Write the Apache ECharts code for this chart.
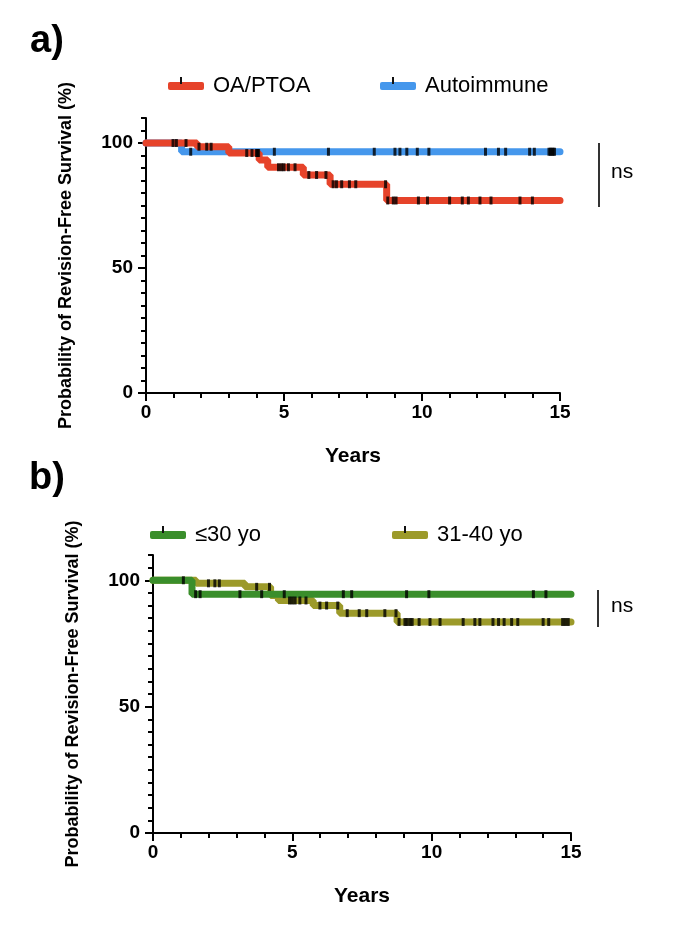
<!DOCTYPE html>
<html><head><meta charset="utf-8">
<script src="https://cdn.jsdelivr.net/npm/echarts@6/dist/echarts.min.js"></script>
<style>html,body{margin:0;padding:0;background:#fff}#c{width:685px;height:939px}</style>
</head><body><div id="c"></div>
<script>
// ---- data ----
const yearLabels = [0, 5, 10, 15];
const survLabels = [0, 50, 100];

// Panel a: Kaplan-Meier steps [years, % survival]
const oaSteps   = [[0,100],[1.85,98.5],[3.0,96],[4.1,93.2],[4.41,90.3],[5.7,87.2],[6.67,83.5],[8.72,77],[15,77]];
const autoSteps = [[0,100],[1.29,96.5],[15,96.5]];
const oaCensor   = [0.98,1.1,1.45,1.92,2.2,2.36,3.65,3.84,4.0,4.04,4.08,4.8,4.91,5.0,5.16,5.4,5.9,6.18,6.52,6.78,6.9,7.09,7.37,7.6,8.68,8.76,8.96,9.06,9.87,10.2,11.0,11.46,11.68,12.1,12.5,13.55,14.0];
const autoCensor = [1.62,4.65,6.61,8.27,9.02,9.2,9.45,9.83,10.25,12.3,12.77,13.03,13.9,14.07,14.6,14.65,14.7,14.75,14.8];

// Panel b
const youngSteps = [[0,100],[1.4,94.5],[15,94.5]];
const midSteps   = [[0,100],[1.55,98.8],[3.3,97.4],[4.22,94],[4.5,92],[5.75,90],[6.7,87],[8.76,83.5],[15,83.5]];
const youngCensor = [1.09,1.53,1.69,3.12,3.9,4.71,6.83,7.13,9.1,9.9,13.65,14.1];
const midCensor   = [1.99,2.22,2.38,3.72,4.18,4.9,5.0,5.1,5.27,5.49,5.99,6.23,6.63,6.97,7.4,7.67,8.32,8.72,8.83,9.04,9.12,9.22,9.3,9.55,9.94,10.3,11.13,11.55,11.73,12.2,12.4,12.6,12.87,13.09,14.0,14.2,14.7,14.8,14.9];

const names = { oa: 'OA/PTOA', auto: 'Autoimmune', young: '≤30 yo', mid: '31-40 yo' };
const colors = { oa: '#E6432A', auto: '#4597EC', young: '#3A8E2B', mid: '#9C9A2A' };

// ---- helpers ----
const FONT = 'Liberation Sans, Arial, sans-serif';
function levelAt(steps, t) { let v = steps[0][1]; for (const [x, y] of steps) if (x <= t) v = y; return v; }
function censorPts(steps, times) { return times.map(t => [t, levelAt(steps, t)]); }

function axesFor(g) {
  const xs = [
    { type: 'value', gridIndex: g, min: 0, max: 15, interval: 1,
      axisLine: { lineStyle: { color: '#000', width: 2 } },
      axisTick: { length: 5, lineStyle: { color: '#000', width: 2 } },
      axisLabel: { customValues: yearLabels, color: '#000', fontFamily: FONT, fontWeight: 'bold', fontSize: 19, margin: 10 },
      splitLine: { show: false },
      name: 'Years', nameLocation: 'middle', nameGap: 53,
      nameTextStyle: { color: '#000', fontFamily: FONT, fontWeight: 'bold', fontSize: 21 } },
    { type: 'value', gridIndex: g, min: 0, max: 15, position: 'bottom',
      axisLine: { show: false },
      axisTick: { customValues: yearLabels, length: 8, lineStyle: { color: '#000', width: 2 } },
      axisLabel: { show: false }, splitLine: { show: false } }
  ];
  const ys = [
    { type: 'value', gridIndex: g, min: 0, max: 110, interval: 5,
      axisLine: { show: true, lineStyle: { color: '#000', width: 2 } },
      axisTick: { show: true, length: 5, lineStyle: { color: '#000', width: 2 } },
      axisLabel: { customValues: survLabels, color: '#000', fontFamily: FONT, fontWeight: 'bold', fontSize: 19, margin: 13 },
      splitLine: { show: false },
      name: 'Probability of Revision-Free Survival (%)', nameLocation: 'middle', nameGap: 71, nameRotate: 90,
      nameTextStyle: { color: '#000', fontFamily: FONT, fontWeight: 'bold', fontSize: 18 } },
    { type: 'value', gridIndex: g, min: 0, max: 110, position: 'left',
      axisLine: { show: false },
      axisTick: { show: true, customValues: survLabels, length: 8, lineStyle: { color: '#000', width: 2 } },
      axisLabel: { show: false }, splitLine: { show: false } }
  ];
  return { xs, ys };
}

const A = axesFor(0), B = axesFor(1);

function curve(name, steps, color, xi, yi, z) {
  return { name, type: 'line', step: 'end', data: steps, xAxisIndex: xi, yAxisIndex: yi,
    showSymbol: false, symbol: 'none', color, z,
    lineStyle: { color, width: 7, cap: 'round' }, animation: false };
}
function censors(name, pts, xi, yi) {
  return { name, type: 'scatter', data: pts, xAxisIndex: xi, yAxisIndex: yi,
    symbol: 'rect', symbolSize: [3, 8], itemStyle: { color: '#000' }, z: 10, animation: false, silent: true };
}

function legendItem(name, left, top) {
  return { data: [name], left, top, icon: 'roundRect', itemWidth: 36, itemHeight: 8,
    textStyle: { color: '#000', fontFamily: FONT, fontSize: 22, padding: [0, 0, 0, 4] }, selectedMode: false };
}

const option = {
  backgroundColor: '#fff',
  animation: false,
  title: [
    { text: 'a)', left: 25, top: 18, textStyle: { fontFamily: FONT, fontWeight: 'bold', fontSize: 38, color: '#000' } },
    { text: 'b)', left: 24, top: 455, textStyle: { fontFamily: FONT, fontWeight: 'bold', fontSize: 38, color: '#000' } }
  ],
  legend: [
    legendItem(names.oa, 163, 70),
    legendItem(names.auto, 375, 70),
    legendItem(names.young, 145, 519),
    legendItem(names.mid, 387, 519)
  ],
  grid: [
    { left: 146, top: 118, width: 414, height: 275 },
    { left: 153, top: 555, width: 418, height: 278 }
  ],
  xAxis: [...A.xs, ...B.xs],
  yAxis: [...A.ys, ...B.ys],
  series: [
    curve(names.auto, autoSteps, colors.auto, 0, 0, 2),
    curve(names.oa, oaSteps, colors.oa, 0, 0, 3),
    censors('auto-c', censorPts(autoSteps, autoCensor), 0, 0),
    censors('oa-c', censorPts(oaSteps, oaCensor), 0, 0),
    curve(names.mid, midSteps, colors.mid, 2, 2, 2),
    curve(names.young, youngSteps, colors.young, 2, 2, 3),
    censors('mid-c', censorPts(midSteps, midCensor), 2, 2),
    censors('young-c', censorPts(youngSteps, youngCensor), 2, 2)
  ],
  graphic: [
    // ticks on legend icons
    { type: 'rect', shape: { x: 180, y: 77, width: 2, height: 7 }, style: { fill: '#111' }, z: 100 },
    { type: 'rect', shape: { x: 392, y: 77, width: 2, height: 7 }, style: { fill: '#111' }, z: 100 },
    { type: 'rect', shape: { x: 162, y: 526, width: 2, height: 7 }, style: { fill: '#111' }, z: 100 },
    { type: 'rect', shape: { x: 404, y: 526, width: 2, height: 7 }, style: { fill: '#111' }, z: 100 },
    // significance brackets
    { type: 'line', shape: { x1: 599, y1: 143, x2: 599, y2: 207 }, style: { stroke: '#333', lineWidth: 2 } },
    { type: 'text', left: 611, top: 162, style: { text: 'ns', font: '21px ' + FONT, fill: '#000' } },
    { type: 'line', shape: { x1: 598, y1: 590, x2: 598, y2: 627 }, style: { stroke: '#333', lineWidth: 2 } },
    { type: 'text', left: 611, top: 596, style: { text: 'ns', font: '21px ' + FONT, fill: '#000' } }
  ]
};

const chart = echarts.init(document.getElementById('c'), null, { renderer: 'canvas' });
chart.setOption(option);
</script>
</body></html>
